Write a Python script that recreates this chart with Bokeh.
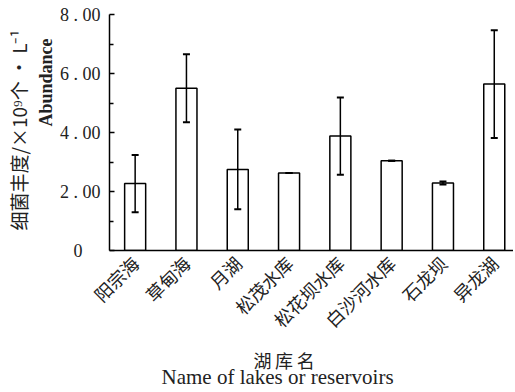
from math import pi
from bokeh.plotting import figure
from bokeh.models import ColumnDataSource, Whisker, TeeHead, FixedTicker, Title, Range1d
from bokeh.embed import file_html
from bokeh.resources import INLINE

lakes = ["阳宗海", "草甸海", "月湖", "松茂水库", "松花坝水库", "白沙河水库", "石龙坝", "异龙湖"]
abundance = [2.27, 5.50, 2.75, 2.63, 3.88, 3.04, 2.29, 5.64]
sd = [0.97, 1.15, 1.35, 0.0, 1.31, 0.0, 0.05, 1.83]
y_ticks = [0, 2, 4, 6, 8]
y_tick_labels = ["0\u2007\u2007", "2 . 00", "4 . 00", "6 . 00", "8 . 00"]

xs = list(range(1, len(lakes) + 1))
src = ColumnDataSource(dict(
    x=xs, top=abundance,
    upper=[a + s for a, s in zip(abundance, sd)],
    lower=[a - s for a, s in zip(abundance, sd)],
))

SERIF = "Liberation Serif"
CJK = "Noto Sans CJK SC"
INK = "#222222"

p = figure(width=513, height=390, output_backend="svg", toolbar_location=None,
           x_range=Range1d(0.5, 8.375), y_range=Range1d(0, 8),
           min_border_left=109, min_border_right=0, min_border_top=14, min_border_bottom=140)
p.outline_line_color = None
p.xgrid.grid_line_color = None
p.ygrid.grid_line_color = None

p.vbar(x="x", top="top", width=0.41, bottom=0, source=src,
       fill_color="white", line_color="black", line_width=1.5)
w = Whisker(source=src, base="x", upper="upper", lower="lower", level="overlay",
            line_color="black", line_width=1.5,
            upper_head=TeeHead(size=7, line_color="black", line_width=2),
            lower_head=TeeHead(size=7, line_color="black", line_width=2))
p.add_layout(w)

# y axis
ya = p.yaxis[0]
ya.ticker = FixedTicker(ticks=y_ticks, minor_ticks=[1, 3, 5, 7])
ya.major_label_overrides = {t: l for t, l in zip(y_ticks, y_tick_labels)}
ya.major_tick_in = 5
ya.major_tick_out = 0
ya.minor_tick_in = 4
ya.minor_tick_out = 0
ya.axis_line_width = 1.5
ya.major_tick_line_width = 1.5
ya.minor_tick_line_width = 1.5
ya.major_label_text_font = SERIF
ya.major_label_text_font_size = "18px"
ya.major_label_text_color = INK
ya.major_label_standoff = 9

# x axis
xa = p.xaxis[0]
xa.ticker = FixedTicker(ticks=xs)
xa.major_label_overrides = {x: l for x, l in zip(xs, lakes)}
xa.major_tick_line_color = None
xa.minor_tick_line_color = None
xa.axis_line_width = 1.5
xa.major_label_orientation = pi / 4
xa.major_label_text_font = CJK
xa.major_label_text_font_size = "18px"
xa.major_label_text_color = INK
xa.major_label_standoff = 3

# axis titles
p.add_layout(Title(text="Abundance", align="left", offset=124, standoff=2,
                   text_font=SERIF, text_font_style="bold", text_font_size="18px",
                   text_color=INK), "left")
p.add_layout(Title(text="细菌丰度/×10⁹个 • L⁻¹", align="left", offset=20, standoff=1,
                   text_font=CJK, text_font_style="normal", text_font_size="19px",
                   text_color=INK), "left")
p.add_layout(Title(text="湖\u2009库\u2009名", align="left", offset=144, standoff=0,
                   text_font=CJK, text_font_style="normal", text_font_size="18px",
                   text_color=INK), "below")
p.add_layout(Title(text="Name of  lakes or reservoirs", align="left", offset=52, standoff=-20,
                   text_font=SERIF, text_font_style="normal", text_font_size="21px",
                   text_color=INK), "below")

open("out.html", "w").write(file_html(p, INLINE))
